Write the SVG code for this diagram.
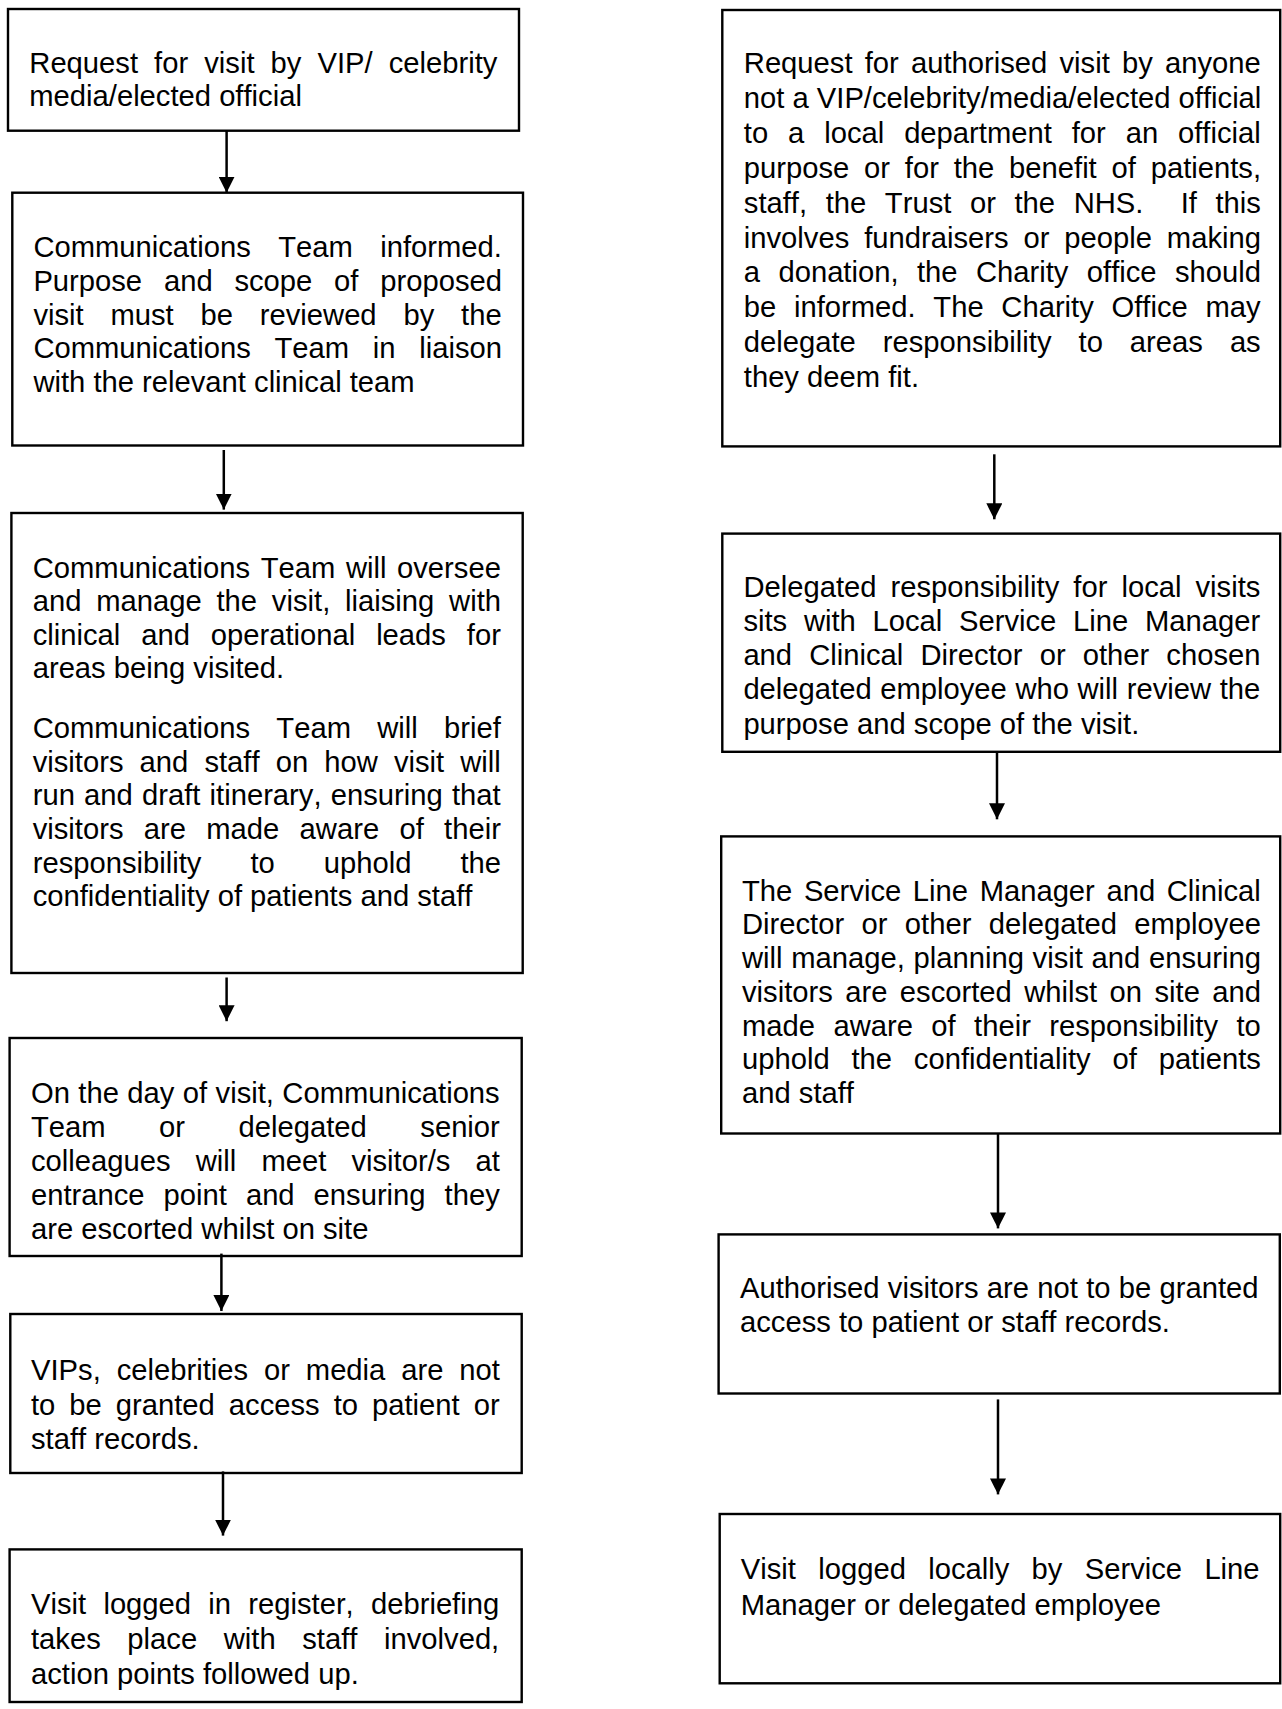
<svg xmlns="http://www.w3.org/2000/svg" width="1282" height="1709" viewBox="0 0 1282 1709">
<style>
.box{fill:#fff;stroke:#000;stroke-width:2.4}
.t{font-family:"Liberation Sans",Arial,sans-serif;font-size:29.2px;fill:#000;font-kerning:none}
.c{stroke:#000;stroke-width:2.5;fill:none;marker-end:url(#ah)}
</style>
<defs>
<marker id="ah" markerUnits="userSpaceOnUse" markerWidth="16" markerHeight="16" refX="16" refY="8" orient="auto" viewBox="0 0 16 16">
<path d="M0,0 L16,8 L0,16 Z" fill="#000"/>
</marker>
</defs>
<rect width="1282" height="1709" fill="#fff"/>

<g id="L1">
<rect class="box" x="8" y="9" width="511" height="121.7"/>
<text class="t" x="29.3" y="72.7" word-spacing="7.98">Request for visit by VIP/ celebrity</text>
<text class="t" x="29.3" y="106">media/elected official</text>
</g>

<g id="L2">
<rect class="box" x="12.3" y="192.7" width="510.7" height="252.8"/>
<text class="t" x="33.4" y="257.3" word-spacing="19.3">Communications Team informed.</text>
<text class="t" x="33.4" y="290.9" word-spacing="13.7">Purpose and scope of proposed</text>
<text class="t" x="33.4" y="324.5" word-spacing="18.7">visit must be reviewed by the</text>
<text class="t" x="33.4" y="358.1" word-spacing="15.6">Communications Team in liaison</text>
<text class="t" x="33.4" y="391.7">with the relevant clinical team</text>
</g>

<g id="L3">
<rect class="box" x="11.4" y="513" width="511.3" height="460"/>
<text class="t" x="32.7" y="577.5" word-spacing="2.5">Communications Team will oversee</text>
<text class="t" x="32.7" y="611.1" word-spacing="6.7">and manage the visit, liaising with</text>
<text class="t" x="32.7" y="644.7" word-spacing="12.8">clinical and operational leads for</text>
<text class="t" x="32.7" y="678.3">areas being visited.</text>
<text class="t" x="32.7" y="738.2" word-spacing="18.2">Communications Team will brief</text>
<text class="t" x="32.7" y="771.8" word-spacing="8">visitors and staff on how visit will</text>
<text class="t" x="32.7" y="805.4" word-spacing="1.1">run and draft itinerary, ensuring that</text>
<text class="t" x="32.7" y="839" word-spacing="12.2">visitors are made aware of their</text>
<text class="t" x="32.7" y="872.6" word-spacing="40.9">responsibility to uphold the</text>
<text class="t" x="32.7" y="906.2">confidentiality of patients and staff</text>
</g>

<g id="L4">
<rect class="box" x="9.6" y="1038" width="512.1" height="218"/>
<text class="t" x="31" y="1102.5" word-spacing="0.3">On the day of visit, Communications</text>
<text class="t" x="31" y="1136.6" word-spacing="45.4">Team or delegated senior</text>
<text class="t" x="31" y="1170.7" word-spacing="17.05">colleagues will meet visitor/s at</text>
<text class="t" x="31" y="1204.8" word-spacing="10.9">entrance point and ensuring they</text>
<text class="t" x="31" y="1238.9">are escorted whilst on site</text>
</g>

<g id="L5">
<rect class="box" x="10.3" y="1314" width="511.4" height="159"/>
<text class="t" x="31" y="1380" word-spacing="7.8">VIPs, celebrities or media are not</text>
<text class="t" x="31" y="1414.5" word-spacing="5.9">to be granted access to patient or</text>
<text class="t" x="31" y="1449">staff records.</text>
</g>

<g id="L6">
<rect class="box" x="9.6" y="1549.4" width="512.1" height="152.6"/>
<text class="t" x="31" y="1613.6" word-spacing="9.15">Visit logged in register, debriefing</text>
<text class="t" x="31" y="1649" word-spacing="18.5">takes place with staff involved,</text>
<text class="t" x="31" y="1684.4">action points followed up.</text>
</g>

<g id="R1">
<rect class="box" x="722.3" y="10" width="557.9" height="436.4"/>
<text class="t" x="743.8" y="73" word-spacing="4.1">Request for authorised visit by anyone</text>
<text class="t" x="743.8" y="107.9">not a VIP/celebrity/media/elected official</text>
<text class="t" x="743.8" y="142.8" word-spacing="11.8">to a local department for an official</text>
<text class="t" x="743.8" y="177.7" word-spacing="6.7">purpose or for the benefit of patients,</text>
<text class="t" x="743.8" y="212.6" word-spacing="10.5" xml:space="preserve">staff, the Trust or the NHS.  If this</text>
<text class="t" x="743.8" y="247.5" word-spacing="6.8">involves fundraisers or people making</text>
<text class="t" x="743.8" y="282.4" word-spacing="10.3">a donation, the Charity office should</text>
<text class="t" x="743.8" y="317.3" word-spacing="9.6">be informed. The Charity Office may</text>
<text class="t" x="743.8" y="352.2" word-spacing="18.9">delegate responsibility to areas as</text>
<text class="t" x="743.8" y="387.1">they deem fit.</text>
</g>

<g id="R2">
<rect class="box" x="722.3" y="533.6" width="557.9" height="218.2"/>
<text class="t" x="743.4" y="597.1" word-spacing="5.95">Delegated responsibility for local visits</text>
<text class="t" x="743.4" y="631.2" word-spacing="8.6">sits with Local Service Line Manager</text>
<text class="t" x="743.4" y="665.3" word-spacing="9">and Clinical Director or other chosen</text>
<text class="t" x="743.4" y="699.4" word-spacing="0.5">delegated employee who will review the</text>
<text class="t" x="743.4" y="733.5">purpose and scope of the visit.</text>
</g>

<g id="R3">
<rect class="box" x="721.2" y="836.4" width="559" height="297.1"/>
<text class="t" x="742" y="900.7" word-spacing="3.5">The Service Line Manager and Clinical</text>
<text class="t" x="742" y="934.4" word-spacing="9.25">Director or other delegated employee</text>
<text class="t" x="742" y="968.1" word-spacing="0.6">will manage, planning visit and ensuring</text>
<text class="t" x="742" y="1001.8" word-spacing="4.3">visitors are escorted whilst on site and</text>
<text class="t" x="742" y="1035.5" word-spacing="10.3">made aware of their responsibility to</text>
<text class="t" x="742" y="1069.2" word-spacing="13.7">uphold the confidentiality of patients</text>
<text class="t" x="742" y="1102.9">and staff</text>
</g>

<g id="R4">
<rect class="box" x="718.6" y="1234.4" width="561.2" height="159.1"/>
<text class="t" x="740" y="1298" word-spacing="0.15">Authorised visitors are not to be granted</text>
<text class="t" x="740" y="1331.6">access to patient or staff records.</text>
</g>

<g id="R5">
<rect class="box" x="719.7" y="1514" width="560.5" height="169.3"/>
<text class="t" x="740.8" y="1579.2" word-spacing="14.2">Visit logged locally by Service Line</text>
<text class="t" x="740.8" y="1615">Manager or delegated employee</text>
</g>

<g id="connectors">
<line class="c" x1="226.6" y1="130.7" x2="226.6" y2="192.7"/>
<line class="c" x1="223.8" y1="450" x2="223.8" y2="509.6"/>
<line class="c" x1="226.6" y1="977.5" x2="226.6" y2="1021.2"/>
<line class="c" x1="221.4" y1="1253.6" x2="221.4" y2="1311"/>
<line class="c" x1="223" y1="1471.4" x2="223" y2="1535.6"/>
<line class="c" x1="994.3" y1="454.3" x2="994.3" y2="519.3"/>
<line class="c" x1="997" y1="751.8" x2="997" y2="819.3"/>
<line class="c" x1="998" y1="1133.5" x2="998" y2="1228.4"/>
<line class="c" x1="998" y1="1399.4" x2="998" y2="1494.4"/>
</g>
</svg>
